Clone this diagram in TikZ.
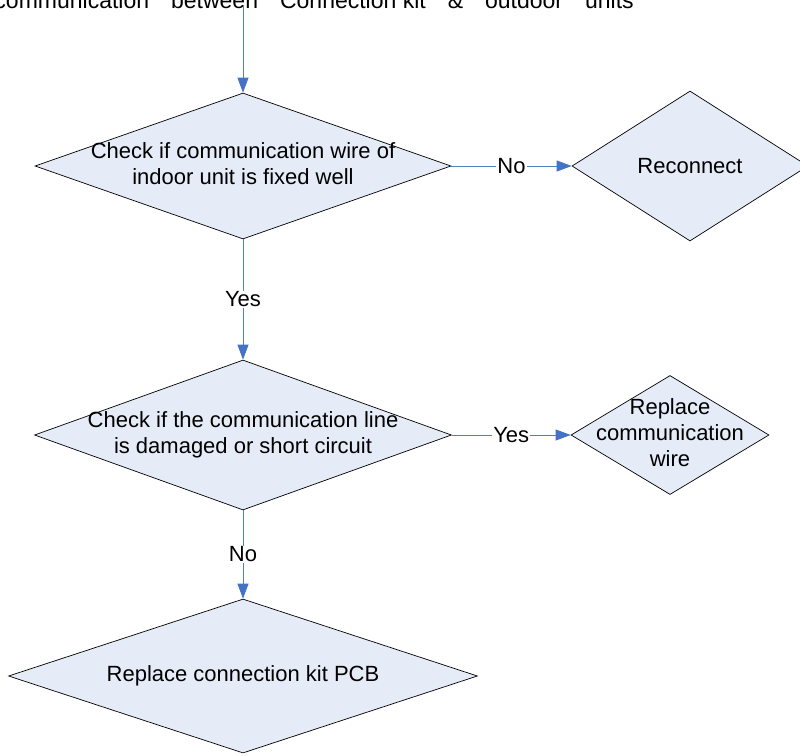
\documentclass[tikz,border=0pt]{standalone}
\usepackage{fontspec}
\setmainfont{Liberation Sans}
\usetikzlibrary{shapes.geometric,arrows.meta}
\definecolor{linkblue}{HTML}{4F81BD}
\definecolor{tipblue}{HTML}{4472C4}
\definecolor{boxfill}{HTML}{E6ECF7}
\newcommand{\dtext}[1]{\makebox[0pt]{\begin{tabular}{@{}c@{}}#1\end{tabular}}}

\begin{document}
\begin{tikzpicture}[x=1pt,y=1pt,
  decision/.style={diamond,draw=black,line width=0.7pt,fill=boxfill,inner sep=0pt,
    font=\fontsize{22}{26}\selectfont},
  link/.style={draw=linkblue,line width=0.8pt,-{Triangle[length=15pt,width=11pt,color=tipblue]}},
  answer/.style={fill=white,inner sep=1pt,font=\fontsize{22}{26}\selectfont}]
\useasboundingbox (0,0) rectangle (800,-755);
\node[anchor=base east,inner sep=0pt,font=\fontsize{23}{27}\selectfont] (title) at (634,-8)
  {communication\hspace{22pt}between\hspace{22pt}Connection kit\hspace{22pt}\&\hspace{22pt}outdoor\hspace{22pt}units};
\coordinate (start) at (243,-5);
\node[decision,minimum width=416pt,minimum height=146pt] (fixed) at (243,-166)
  {\dtext{Check if communication wire of\\indoor unit is fixed well}};
\node[decision,minimum width=236pt,minimum height=150pt] (reconnect) at (690,-166) {Reconnect};
\node[decision,minimum width=417pt,minimum height=150pt] (damaged) at (243,-435)
  {\dtext{Check if the communication line\\is damaged or short circuit}};
\node[decision,minimum width=198pt,minimum height=119pt] (wire) at (670,-435)
  {\dtext{Replace\\communication\\wire}};
\node[decision,minimum width=469pt,minimum height=154pt] (pcb) at (243,-676)
  {\dtext{Replace connection kit PCB}};
% connectors
\draw[link] (start) -- (fixed.north);
\draw[link] (fixed.east) -- node[answer] {No} (reconnect.west);
\draw[link] (fixed.south) -- node[answer] {Yes} (damaged.north);
\draw[link] (damaged.east) -- node[answer] {Yes} (wire.west);
\draw[link] (damaged.south) -- node[answer] {No} (pcb.north);
\end{tikzpicture}
\end{document}
